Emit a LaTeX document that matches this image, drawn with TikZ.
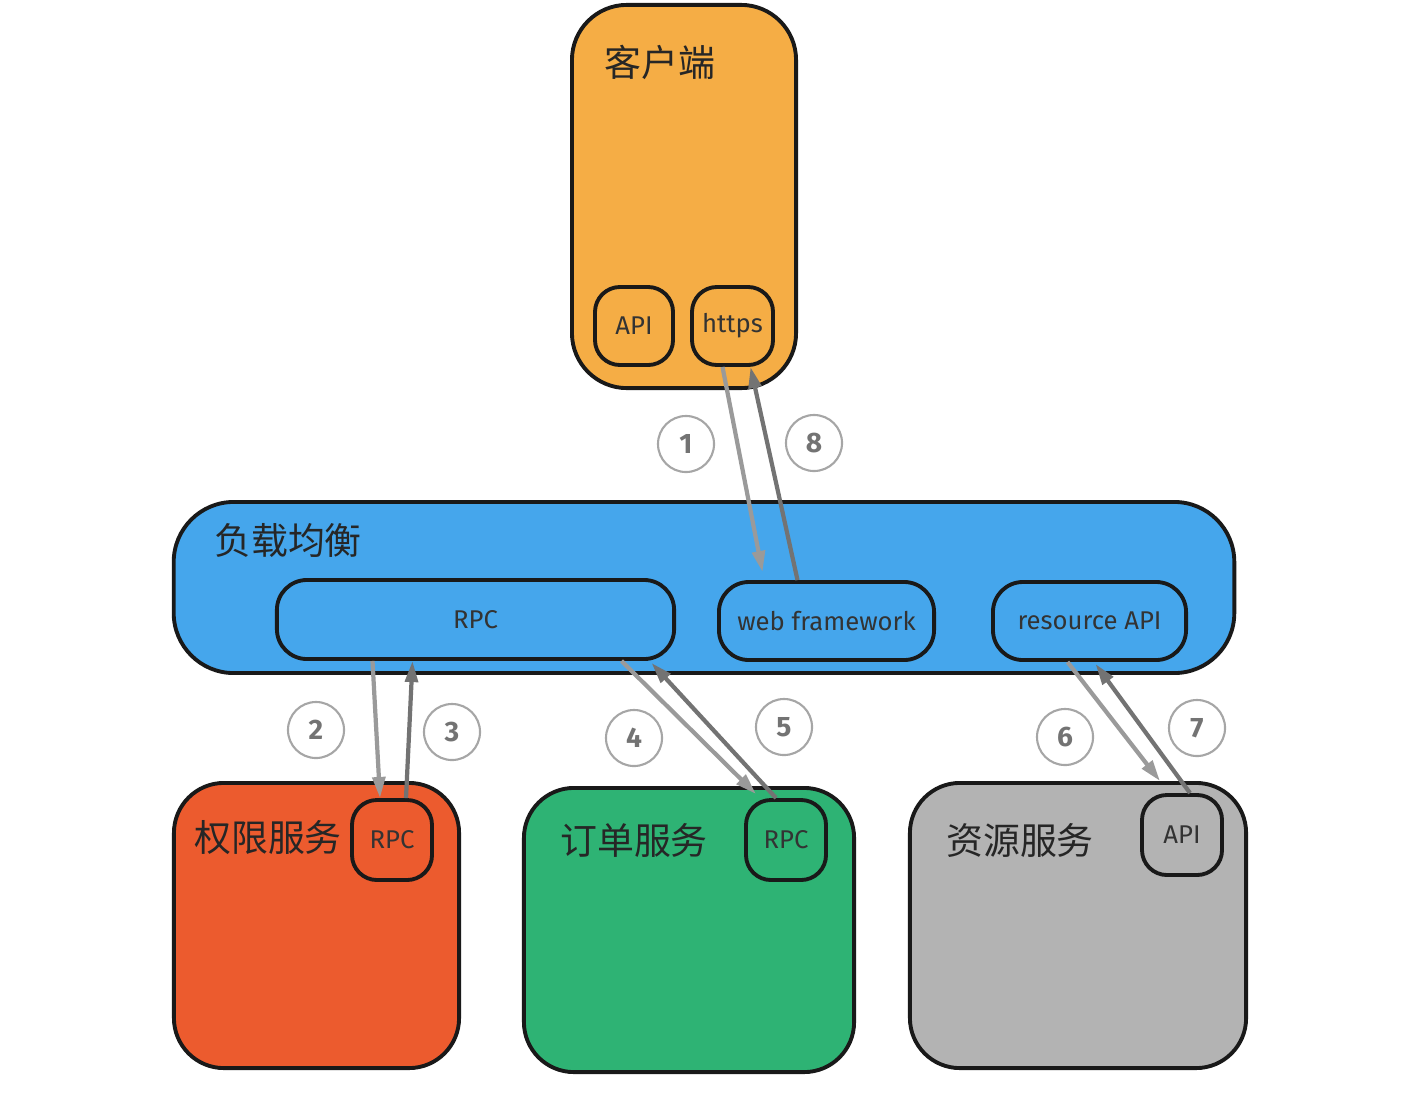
\documentclass[tikz,border=0pt]{standalone}
\usepackage{fontspec}
\setmainfont{Fira Sans}
\newfontfamily\cjk{Noto Sans CJK SC}
\usepackage{tikz}
\usetikzlibrary{arrows.meta, calc, positioning}

\definecolor{clientorange}{HTML}{F5AD45}
\definecolor{lbblue}{HTML}{45A6EC}
\definecolor{authred}{HTML}{EC5B2E}
\definecolor{ordergreen}{HTML}{2EB374}
\definecolor{resgray}{HTML}{B3B3B3}
\definecolor{reqgray}{HTML}{9A9A9A}
\definecolor{respgray}{HTML}{737373}

\tikzset{
    box/.style={draw=black!90, line width=1.1pt, rectangle, inner sep=0pt},
    port/.style={box, rounded corners=0.25cm, font=\fontsize{7.3}{9}\selectfont, text=black!80},
    title/.style={font=\cjk\fontsize{10.5}{12}\selectfont, text=black!85},
    num/.style={draw=gray!70, circle, line width=0.6pt, minimum size=0.56cm, inner sep=0pt, text=gray!90!black, font=\bfseries\fontsize{8}{9}\selectfont},
    req/.style={draw=reqgray, line width=1.2pt, -{Triangle[length=6pt, width=3.6pt]}},
    resp/.style={draw=respgray, line width=1.2pt, -{Triangle[length=6pt, width=3.6pt]}},
}

\begin{document}
\begin{tikzpicture}[x=0.01cm, y=-0.01cm]
    \useasboundingbox (0,0) rectangle (1404,1100);

    % Client
    \node[box, fill=clientorange, rounded corners=0.55cm, minimum width=2.24cm, minimum height=3.83cm] (client) at (684,196.5) {};
    \node[title] (clienttitle) at (660,62) {客户端};
    \node[port, fill=clientorange, minimum width=0.78cm, minimum height=0.78cm] (capi) at (634,326) {API};
    \node[port, fill=clientorange, minimum width=0.81cm, minimum height=0.78cm] (https) at (732.5,326) {https};

    % Load balancer
    \node[box, fill=lbblue, rounded corners=0.6cm, minimum width=10.6cm, minimum height=1.71cm] (lb) at (704,587.5) {};
    \node[title] (lbtitle) at (288,540) {负载均衡};
    \node[port, fill=lbblue, rounded corners=0.3cm, minimum width=3.97cm, minimum height=0.79cm] (rpcbar) at (475.5,619.5) {RPC};
    \node[port, fill=lbblue, rounded corners=0.3cm, minimum width=2.15cm, minimum height=0.78cm] (web) at (826.5,621) {web framework};
    \node[port, fill=lbblue, rounded corners=0.3cm, minimum width=1.93cm, minimum height=0.78cm] (resapi) at (1089.5,621) {resource API};

    % Services
    \node[box, fill=authred, rounded corners=0.5cm, minimum width=2.85cm, minimum height=2.85cm] (auth) at (316.5,925.5) {};
    \node[title] (authtitle) at (268,838) {权限服务};
    \node[port, fill=authred, minimum width=0.8cm, minimum height=0.8cm] (rpca) at (392,840) {RPC};

    \node[box, fill=ordergreen, rounded corners=0.5cm, minimum width=3.3cm, minimum height=2.84cm] (order) at (689,930) {};
    \node[title] (ordertitle) at (634,840) {订单服务};
    \node[port, fill=ordergreen, minimum width=0.8cm, minimum height=0.8cm] (rpcb) at (786,840) {RPC};

    \node[box, fill=resgray, rounded corners=0.5cm, minimum width=3.36cm, minimum height=2.85cm] (res) at (1078,925.5) {};
    \node[title] (restitle) at (1020,840) {资源服务};
    \node[port, fill=resgray, minimum width=0.8cm, minimum height=0.8cm] (apir) at (1182,835) {API};

    % Calls
    \draw[req] ($(https.south)+(-10,0)$) -- ($(web.north)+(-64,-8)$);
    \draw[resp] ($(web.north)+(-29,0)$) -- ($(https.south)+(18,0)$);
    \draw[req] ($(rpcbar.south)+(-103,0)$) -- ($(rpca.north)+(-12,0)$);
    \draw[resp] ($(rpca.north)+(14,0)$) -- ($(rpcbar.south)+(-63,0)$);
    \draw[req] ($(rpcbar.south)+(146,0)$) -- ($(rpcb.north)+(-30,-4)$);
    \draw[resp] ($(rpcb.north)+(-10,0)$) -- ($(rpcbar.south)+(176,2)$);
    \draw[req] ($(resapi.south)+(-22,0)$) -- ($(apir.north)+(-22,-12)$);
    \draw[resp] ($(apir.north)+(8,0)$) -- ($(resapi.south)+(6,2)$);

    % Step numbers
    \node[num] (n1) at (686,444) {1};
    \node[num] (n8) at (814,443) {8};
    \node[num] (n2) at (316,730) {2};
    \node[num] (n3) at (452,732) {3};
    \node[num] (n4) at (634,738) {4};
    \node[num] (n5) at (784,727) {5};
    \node[num] (n6) at (1065,737) {6};
    \node[num] (n7) at (1197,728) {7};

\end{tikzpicture}
\end{document}
